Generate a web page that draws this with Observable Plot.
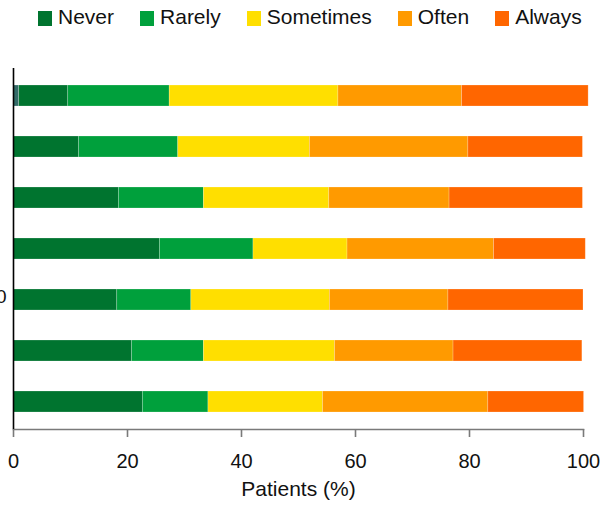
<!DOCTYPE html>
<html>
<head>
<meta charset="utf-8">
<script src="https://cdn.jsdelivr.net/npm/d3@7"></script>
<script src="https://cdn.jsdelivr.net/npm/@observablehq/plot@0.6"></script>
<style>
  html, body { margin: 0; padding: 0; background: #fff; }
  body { width: 604px; height: 510px; overflow: hidden; font-family: "Liberation Sans", Arial, sans-serif; }
  #legend { height: 34px; box-sizing: border-box; padding: 5px 0 0 38px; display: flex; align-items: flex-start; }
  .item { display: flex; align-items: center; height: 24px; margin-right: 26px; }
  .sw { width: 14px; height: 15px; margin-right: 6px; margin-top: 2px; }
  .lb { font-size: 21px; line-height: 24px; color: #111; }
  svg { display: block; }
</style>
</head>
<body>
<div id="legend"></div>
<div id="chart"></div>
<script>
// Rows (top to bottom); names are not shown in the reference
const rows = ["Row 1", "Row 2", "Row 3", "Row 4", "Row 5", "Row 6", "Row 7"];
const categories = ["Missing", "Never", "Rarely", "Sometimes", "Often", "Always"];
const legendCategories = ["Never", "Rarely", "Sometimes", "Often", "Always"];
const colors = ["#336b68", "#00742f", "#00a03c", "#ffdf00", "#ff9a00", "#ff6600"];

// Percent of patients per row
const missing   = [1.0, 0, 0, 0, 0, 0, 0];
const never     = [8.6, 11.5, 18.5, 25.7, 18.2, 20.8, 22.7];
const rarely    = [17.8, 17.4, 14.9, 16.4, 13.0, 12.6, 11.5];
const sometimes = [29.6, 23.1, 22.0, 16.5, 24.3, 23.0, 20.1];
const often     = [21.7, 27.8, 21.1, 25.7, 20.8, 20.8, 29.0];
const always    = [22.2, 20.1, 23.4, 16.1, 23.7, 22.6, 16.8];

const xTicks = [0, 20, 40, 60, 80, 100];
const xLabel = "Patients (%)";
const cutLabel = [{row: "Row 5", label: "0"}];

const series = [missing, never, rarely, sometimes, often, always];
const data = [];
rows.forEach((r, i) => {
  categories.forEach((c, j) => {
    if (series[j][i] > 0) data.push({row: r, category: c, value: series[j][i]});
  });
});

// HTML legend
const legend = document.getElementById("legend");
legendCategories.forEach(c => {
  const it = document.createElement("div");
  it.className = "item";
  const sw = document.createElement("div");
  sw.className = "sw";
  sw.style.background = colors[categories.indexOf(c)];
  const lb = document.createElement("span");
  lb.className = "lb";
  lb.textContent = c;
  it.appendChild(sw); it.appendChild(lb);
  legend.appendChild(it);
});

const plot = Plot.plot({
  width: 604,
  height: 476,
  marginTop: 34,
  marginBottom: 81,
  marginLeft: 13,
  marginRight: 21,
  style: {fontFamily: "'Liberation Sans', Arial, sans-serif", background: "#fff", overflow: "hidden"},
  x: {domain: [0, 100], axis: null},
  y: {domain: rows, paddingInner: 0.59, paddingOuter: 0.3, axis: null},
  color: {domain: categories, range: colors},
  marks: [
    Plot.barX(data, Plot.stackX({
      x: "value", y: "row", fill: "category", order: categories,
      stroke: "white", strokeOpacity: 0.3, strokeWidth: 0.7
    })),
    Plot.frame({anchor: "bottom", stroke: "#7a7a7a", strokeWidth: 1.6}),
    Plot.axisX({ticks: xTicks, tickSize: 8, tickPadding: 16, fontSize: 20, stroke: "#7a7a7a", strokeWidth: 1.6, fill: "#111", label: null}),
    Plot.ruleX([0], {stroke: "#000", strokeWidth: 1.6}),
    Plot.text([xLabel], {frameAnchor: "bottom", lineAnchor: "top", dy: 52, fontSize: 21, fill: "#111", text: d => d}),
    Plot.text(cutLabel, {x: () => 0, y: "row", text: "label", textAnchor: "end", dx: -7, dy: -3, fontSize: 19, fill: "#111"})
  ]
});
document.getElementById("chart").appendChild(plot);
</script>
</body>
</html>
